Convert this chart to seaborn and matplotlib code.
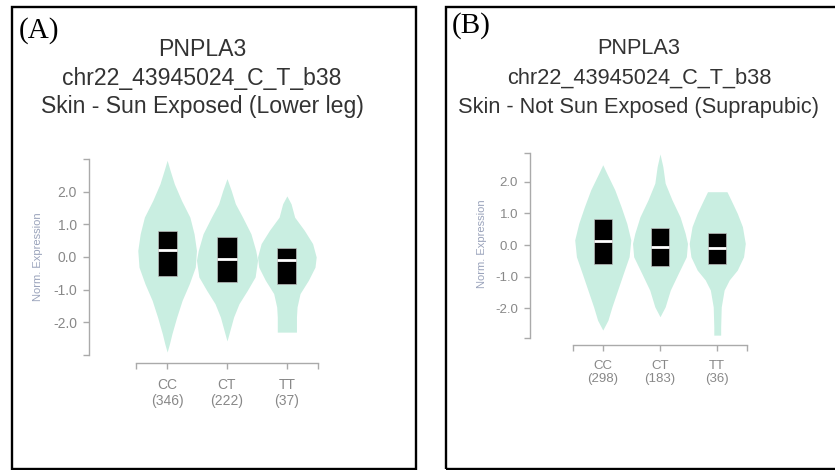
import matplotlib
matplotlib.use("Agg")
import matplotlib.pyplot as plt
import seaborn as sns
from matplotlib.patches import Rectangle

# ---- data ----
genotypes = ["CC", "CT", "TT"]
counts_a = [346, 222, 37]
counts_b = [298, 183, 36]

# violin outlines: expression level -> half width (in category units)
cc_a_y = [2.96, 2.65, 2.24, 1.73, 1.22, 0.71, 0.20, -0.31, -0.82, -1.33, -1.84, -2.35, -2.65, -2.91]
cc_a_w = [0.0, 0.05, 0.12, 0.24, 0.38, 0.45, 0.49, 0.47, 0.37, 0.25, 0.16, 0.08, 0.04, 0.0]
ct_a_y = [2.40, 2.04, 1.63, 1.22, 0.71, 0.20, -0.10, -0.61, -1.02, -1.43, -1.84, -2.24, -2.57]
ct_a_w = [0.0, 0.07, 0.14, 0.26, 0.40, 0.48, 0.51, 0.47, 0.34, 0.20, 0.11, 0.05, 0.0]
tt_a_y = [1.87, 1.63, 1.22, 0.82, 0.41, 0.00, -0.31, -0.71, -1.12, -1.53, -1.84, -2.30]
tt_a_w = [0.0, 0.07, 0.13, 0.29, 0.43, 0.49, 0.47, 0.36, 0.22, 0.17, 0.16, 0.16]

cc_b_y = [2.53, 2.26, 1.74, 1.21, 0.68, 0.16, -0.37, -0.89, -1.42, -1.95, -2.37, -2.68]
cc_b_w = [0.0, 0.07, 0.21, 0.32, 0.42, 0.49, 0.46, 0.36, 0.26, 0.16, 0.09, 0.0]
ct_b_y = [2.87, 2.47, 1.95, 1.42, 0.89, 0.37, 0.05, -0.37, -0.89, -1.42, -1.95, -2.26]
ct_b_w = [0.0, 0.05, 0.09, 0.21, 0.35, 0.44, 0.48, 0.46, 0.32, 0.18, 0.09, 0.0]
tt_b_y = [1.68, 1.42, 1.00, 0.58, 0.05, -0.37, -0.79, -1.10, -1.42, -1.95, -2.58, -2.84]
tt_b_w = [0.17, 0.24, 0.35, 0.44, 0.49, 0.46, 0.35, 0.21, 0.12, 0.07, 0.06, 0.06]

q1_a = [-0.59, -0.77, -0.82]
med_a = [0.20, -0.05, -0.08]
q3_a = [0.80, 0.61, 0.29]

q1_b = [-0.61, -0.66, -0.60]
med_b = [0.14, -0.07, -0.08]
q3_b = [0.82, 0.55, 0.37]

yticks = [-2, -1, 0, 1, 2]

VIOLIN = "#c9eee1"
AXIS = "#aaaaaa"
TEXT = "#888888"

sns.set_style("ticks")
plt.rcParams["font.family"] = ["Liberation Sans", "DejaVu Sans"]

fig = plt.figure(figsize=(8.35, 4.70), dpi=100)
W, H = 835, 470


def panel(rect, outlines, q1, med, q3, counts, ylim, offsets, ylab_xy, fs):
    ax = fig.add_axes([rect[0] / W, 1 - rect[3] / H, (rect[2] - rect[0]) / W, (rect[3] - rect[1]) / H])
    for i, (ys, ws) in enumerate(outlines):
        ax.fill_betweenx(ys, [i - w for w in ws], [i + w for w in ws], color=VIOLIN, lw=0)
    for i in range(len(genotypes)):
        ax.bar(i, q3[i] - q1[i], bottom=q1[i], width=0.32, color="black", edgecolor="#bbbbbb", lw=0.5)
        ax.hlines(med[i], i - 0.16, i + 0.16, color="white", lw=2)
    ax.set_xlim(-0.52, 2.52)
    ax.set_ylim(*ylim)
    ax.set_yticks(yticks)
    ax.set_yticklabels([f"{t:.1f}" for t in yticks])
    ax.set_yticks(list(ylim), minor=True)
    ax.set_xticks(range(len(genotypes)))
    ax.set_xticklabels([f"{g}\n({n})" for g, n in zip(genotypes, counts)], linespacing=1.45)
    ax.set_xticks([-0.52, 2.52], minor=True)
    sns.despine(ax=ax, offset=offsets)
    for s in ("left", "bottom"):
        ax.spines[s].set_color(AXIS)
        ax.spines[s].set_linewidth(1)
    ax.tick_params(which="both", colors=AXIS, labelcolor=TEXT, labelsize=fs, length=4.5, width=1)
    ax.tick_params(axis="y", pad=4)
    ax.tick_params(axis="x", pad=6)
    ax.set_ylabel("Norm. Expression", fontsize=8, color="#9aa3bb")
    ax.yaxis.set_label_coords(*ylab_xy)
    return ax


panel((136, 159, 318, 355),
      [(cc_a_y, cc_a_w), (ct_a_y, ct_a_w), (tt_a_y, tt_a_w)],
      q1_a, med_a, q3_a, counts_a, (-3.0, 3.0),
      dict(left=34, bottom=6), (-0.511, 0.5), 10)

panel((573, 153, 747, 338),
      [(cc_b_y, cc_b_w), (ct_b_y, ct_b_w), (tt_b_y, tt_b_w)],
      q1_b, med_b, q3_b, counts_b, (-2.93, 2.9),
      dict(left=31, bottom=5), (-0.494, 0.51), 9.5)

# panel frames (the right one runs past the picture edge)
for x0, x1 in [(11.5, 415.5), (445.5, 845)]:
    fig.add_artist(Rectangle((x0 / W, 1 / H), (x1 - x0) / W, 462.5 / H,
                             transform=fig.transFigure, fill=False, ec="black", lw=1.7))

titles_a = ["PNPLA3", "chr22_43945024_C_T_b38", "Skin - Sun Exposed (Lower leg)"]
titles_b = ["PNPLA3", "chr22_43945024_C_T_b38", "Skin - Not Sun Exposed (Suprapubic)"]
for cx, lines, fs in [(202, titles_a, 16.6), (639, titles_b, 15.7)]:
    for j, t in enumerate(lines):
        fig.text(cx / W, 1 - (49 + 29 * j) / H, t, ha="center", va="center",
                 fontsize=fs, color="#333333")

fig.text(39 / W, 1 - 31 / H, "(A)", ha="center", va="center", fontsize=21,
         family="Liberation Serif", color="black")
fig.text(471 / W, 1 - 26 / H, "(B)", ha="center", va="center", fontsize=21,
         family="Liberation Serif", color="black")

fig.savefig("out.png", dpi=100)
